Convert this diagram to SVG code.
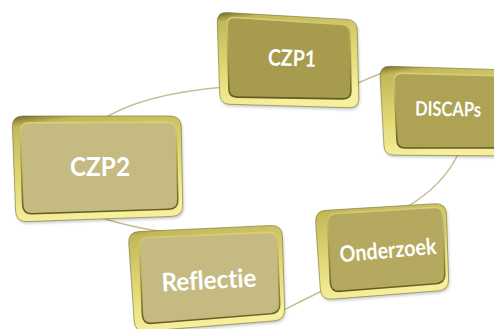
<svg xmlns="http://www.w3.org/2000/svg" width="494" height="329" viewBox="0 0 494 329">
<defs>
<linearGradient id="bevel" x1="0" y1="0" x2="0.25" y2="1">
<stop offset="0" stop-color="#6f682c"/>
<stop offset="0.1" stop-color="#c2b85a"/>
<stop offset="0.55" stop-color="#e0d773"/>
<stop offset="1" stop-color="#f6f09c"/>
</linearGradient>
<linearGradient id="edge" x1="0" y1="0" x2="0" y2="1">
<stop offset="0" stop-color="#d8cf7a"/>
<stop offset="0.6" stop-color="#9a9040"/>
<stop offset="1" stop-color="#5f5923"/>
</linearGradient>
<filter id="sh" x="-10%" y="-10%" width="120%" height="130%">
<feGaussianBlur stdDeviation="1.5"/>
</filter>
<style>
.con{fill:none;stroke:#c7bc8e;stroke-width:1.4}
.shadow{fill:#000;opacity:0.22;filter:url(#sh)}
.outer{fill:url(#bevel);stroke:#7a7232;stroke-width:0.6}
.face{stroke:url(#edge);stroke-width:1.6}
.dark{fill:#a79b4d}
.mid{fill:#aea355}
.midl{fill:#b4a95e}
.light{fill:#c5bb82}
.lbl{fill:#ffffff;font-family:Lato,"Open Sans","Liberation Sans",sans-serif;font-weight:bold;text-anchor:middle;font-variant-ligatures:none;font-feature-settings:"liga" 0,"clig" 0}
</style>
</defs>
<g id="connectors">
<path class="con" d="M100,121 Q140,94 225,87"/>
<path class="con" d="M352,86 Q368,78 390,70"/>
<path class="con" d="M460,150 Q445,185 405,208"/>
<path class="con" d="M326,289 Q303,300 280,312"/>
<path class="con" d="M105,219 Q135,228 165,232"/>
</g>
<g id="node-czp1">
<path class="shadow" transform="translate(1,2)" d="M227,12.6 L347,19.4 Q357,20 357.2,30 L358.8,98 Q359,108 349,107.7 L230,104.3 Q220,104 219.7,94 L217.3,22 Q217,12 227,12.6Z"/>
<path class="outer" d="M227,12.6 L347,19.4 Q357,20 357.2,30 L358.8,98 Q359,108 349,107.7 L230,104.3 Q220,104 219.7,94 L217.3,22 Q217,12 227,12.6Z"/>
<path class="face dark" d="M235,17.5 L342,24.5 Q350,25 350.1,33 L350.9,91 Q351,99 343,98.9 L237,97.1 Q229,97 228.9,89 L227.1,25 Q227,17 235,17.5Z"/>
<text class="lbl" x="292" y="66" font-size="22.5" textLength="48" lengthAdjust="spacingAndGlyphs" transform="rotate(2 292 58)">CZP1</text>
</g>
<g id="node-discaps">
<path class="shadow" transform="translate(1,2)" d="M390,66.3 L502,69.7 Q512,70 512,80 L512,146 Q512,156 502,155.9 L394,155.1 Q384,155 383.9,145 L380.1,76 Q380,66 390,66.3Z"/>
<path class="outer" d="M390,66.3 L502,69.7 Q512,70 512,80 L512,146 Q512,156 502,155.9 L394,155.1 Q384,155 383.9,145 L380.1,76 Q380,66 390,66.3Z"/>
<path class="face mid" d="M402,73.2 L498,75.8 Q506,76 506,84 L506,140 Q506,148 498,148 L405,148 Q397,148 396.9,140 L394.1,81 Q394,73 402,73.2Z"/>
<text class="lbl" x="448" y="116" font-size="20" textLength="66" lengthAdjust="spacingAndGlyphs" transform="rotate(1 448 109)">DISCAPs</text>
</g>
<g id="node-onderzoek">
<path class="shadow" transform="translate(1,2)" d="M326,210.3 L435,203.7 Q446,203 446.4,214 L448.6,279 Q449,290 438,290.9 L332,299.1 Q321,300 320.3,289 L315.7,222 Q315,211 326,210.3Z"/>
<path class="outer" d="M326,210.3 L435,203.7 Q446,203 446.4,214 L448.6,279 Q449,290 438,290.9 L332,299.1 Q321,300 320.3,289 L315.7,222 Q315,211 326,210.3Z"/>
<path class="face midl" d="M336,213.5 L434,207.5 Q443,207 443.2,216 L444.8,274 Q445,283 436,283.7 L340,291.3 Q331,292 330.4,283 L327.6,223 Q327,214 336,213.5Z"/>
<text class="lbl" x="388" y="258" font-size="22.5" textLength="97" lengthAdjust="spacingAndGlyphs" transform="rotate(-5 388 251)">Onderzoek</text>
</g>
<g id="node-czp2">
<path class="shadow" transform="translate(1,2)" d="M23,116 L170,116 Q181,116 181.2,127 L182.8,205 Q183,216 172,216.4 L27,221.6 Q16,222 15.6,211 L12.4,127 Q12,116 23,116Z"/>
<path class="outer" d="M23,116 L170,116 Q181,116 181.2,127 L182.8,205 Q183,216 172,216.4 L27,221.6 Q16,222 15.6,211 L12.4,127 Q12,116 23,116Z"/>
<path class="face light" d="M29,122.9 L167,122.1 Q176,122 176.2,131 L177.8,200 Q178,209 169,209.3 L32,213.7 Q23,214 22.7,205 L20.3,132 Q20,123 29,122.9Z"/>
<text class="lbl" x="100" y="176" font-size="26.5" textLength="60" lengthAdjust="spacingAndGlyphs">CZP2</text>
</g>
<g id="node-reflectie">
<path class="shadow" transform="translate(1,2)" d="M139,231.5 L271,225.5 Q282,225 282.35,236 L284.65,309 Q285,320 274,320.9 L146,331.1 Q135,332 134.2,321 L128.8,243 Q128,232 139,231.5Z"/>
<path class="outer" d="M139,231.5 L271,225.5 Q282,225 282.35,236 L284.65,309 Q285,320 274,320.9 L146,331.1 Q135,332 134.2,321 L128.8,243 Q128,232 139,231.5Z"/>
<path class="face light" d="M148,237.6 L268,232.4 Q277,232 277.3,241 L279.7,304 Q280,313 271,313.7 L152,323.3 Q143,324 142.4,315 L139.6,247 Q139,238 148,237.6Z"/>
<text class="lbl" x="209" y="289" font-size="25.5" textLength="95" lengthAdjust="spacingAndGlyphs" transform="rotate(-3 209 282)">Reflectie</text>
</g>
</svg>
